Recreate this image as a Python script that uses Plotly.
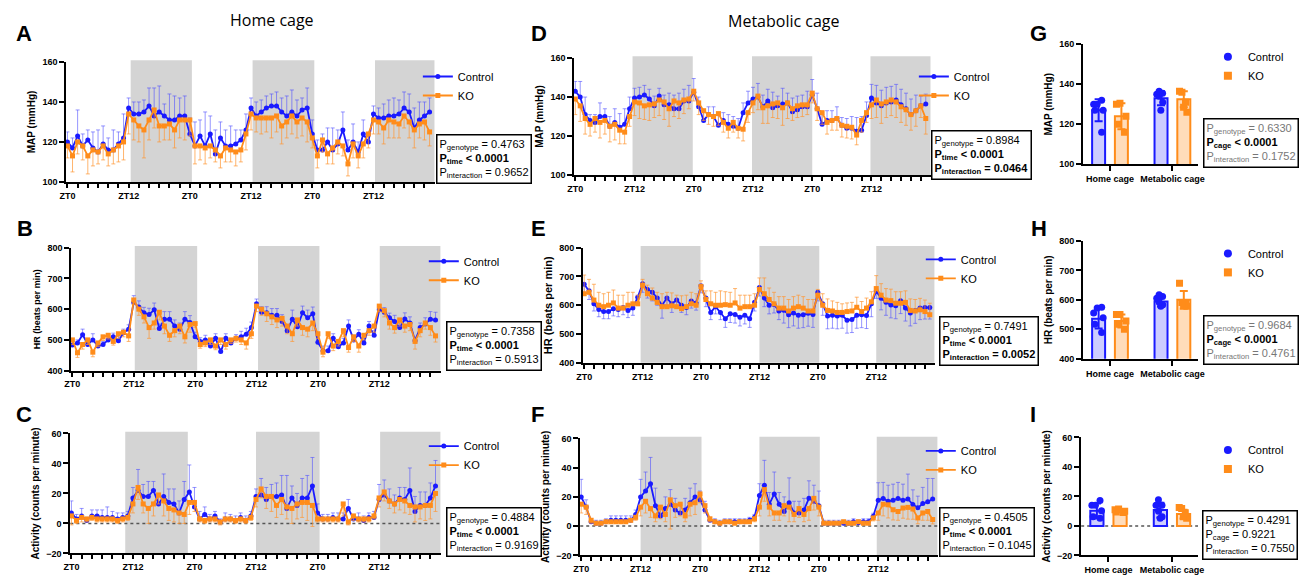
import plotly.graph_objects as go

W, H = 1304, 581
FONT = "Liberation Sans"
BLUE = "#1a1aff"
ORANGE = "#ff8c1a"
BLUE_ERR = "rgba(80,80,255,0.6)"
ORANGE_ERR = "rgba(255,150,50,0.7)"
BLUE_FILL = "rgba(26,26,255,0.22)"
ORANGE_FILL = "rgba(255,140,26,0.30)"
DARK_GRAY = "#d4d4d4"

# ---------------- data ----------------
hours = list(range(72))
zt_hours = [0, 12, 24, 36, 48, 60]
zt_labels = ["ZT0", "ZT12", "ZT0", "ZT12", "ZT0", "ZT12"]
minor_hours = list(range(0, 72, 2))

# A: MAP home cage
map_home_ctrl = [120,117,123,118,121,117,115,119,116,116,119,122,
                 137,134,134,135,138,133,135,133,131,131,133,133,
                 124,118,123,118,124,114,122,118,118,119,121,126,
                 137,133,135,137,138,138,135,133,135,133,136,137,
                 124,116,116,120,116,119,126,116,120,115,124,120,
                 134,132,132,133,133,134,137,135,127,131,133,135]
map_home_ko = [118,113,120,118,113,116,115,118,114,116,118,120,
               134,131,128,126,131,136,128,128,129,126,131,131,
               131,118,118,117,118,116,113,117,116,115,116,124,
               134,132,132,132,132,133,128,130,133,130,132,130,
               122,113,121,114,117,120,118,109,119,113,119,124,
               131,130,127,131,130,129,133,130,126,129,130,125]
map_home_ctrl_err = [5,5,13,6,5,8,11,9,6,10,6,12,
                     5,6,6,6,9,14,13,6,13,12,9,10,
                     8,12,8,17,9,12,8,8,10,7,5,8,
                     5,7,6,6,6,7,7,10,11,8,6,10,
                     7,5,8,7,11,7,9,5,9,5,7,4,
                     4,5,7,8,9,7,8,9,10,9,7,7]
map_home_ko_err = [6,8,6,7,9,8,6,7,6,7,8,9,
                   10,10,8,14,10,9,8,7,8,9,9,10,
                   8,9,7,8,6,6,6,7,6,7,6,8,
                   8,7,8,7,10,8,9,8,9,8,9,10,
                   5,6,6,5,8,6,5,6,7,6,7,7,
                   7,6,8,9,8,7,6,8,9,7,9,7]

# B: HR home cage
hr_home_ctrl = [483,490,517,485,500,480,485,500,510,497,523,535,
                622,607,588,583,598,537,567,567,545,535,567,557,
                510,495,500,480,505,462,505,490,505,510,518,540,
                618,590,588,580,580,560,530,567,543,588,572,585,
                492,465,465,505,478,490,545,500,518,490,545,515,
                598,590,572,560,540,568,555,497,540,552,567,565]
hr_home_ko = [500,458,485,500,460,490,510,515,495,520,525,513,
              630,600,575,540,555,590,545,515,530,545,510,550,
              553,485,490,500,480,500,485,500,505,500,490,520,
              610,600,585,575,565,570,545,520,565,540,535,555,
              520,460,520,480,495,530,475,510,480,515,530,545,
              610,595,555,540,565,545,550,495,530,555,540,513]
hr_home_ctrl_err = [12,10,18,10,20,12,10,12,12,15,12,14,
                    22,20,18,20,22,15,25,25,20,20,25,22,
                    15,12,15,12,15,10,15,12,12,18,20,18,
                    15,18,20,22,22,22,18,30,20,22,25,22,
                    20,15,15,15,12,15,20,15,15,15,15,15,
                    15,15,15,20,15,20,20,12,15,20,25,25]
hr_home_ko_err = [15,15,15,15,15,12,12,12,12,15,15,18,
                  15,20,20,35,20,25,25,20,20,25,20,25,
                  12,12,12,15,12,15,15,12,12,15,20,15,
                  18,20,25,25,25,25,25,25,20,25,25,25,
                  15,15,15,15,15,20,15,15,20,15,15,20,
                  18,20,20,18,20,20,20,25,20,20,25,20]

# C: activity home cage
act_home_ctrl = [7,3,5,2,5,5,4,4,4,3,4,5,
                 17,22,18,18,22,13,18,14,13,7,16,21,
                 11,3,6,3,5,1,3,3,2,4,2,5,
                 18,19,16,18,18,19,10,17,12,17,17,25,
                 7,3,3,4,3,3,10,3,3,2,4,4,
                 16,19,15,13,17,16,22,8,12,12,17,25]
act_home_ko = [5,2,4,3,4,3,3,3,3,2,3,4,
               13,24,13,10,13,19,15,10,9,7,6,14,
               14,3,2,3,3,1,3,3,2,3,2,4,
               16,23,18,18,12,16,11,10,13,14,14,12,
               3,3,3,3,3,13,1,5,3,3,3,5,
               17,21,15,13,16,15,12,11,11,12,12,20]
act_home_ctrl_err = [8,3,5,2,4,4,5,7,4,4,3,3,
                     7,14,8,10,6,5,15,9,10,8,12,18,
                     13,5,5,3,3,2,4,3,3,3,3,3,
                     5,11,8,8,9,13,22,8,8,13,15,19,
                     6,3,3,3,4,4,6,3,4,3,3,4,
                     10,10,8,6,7,8,15,10,9,9,10,17]
act_home_ko_err = [6,2,3,2,2,2,2,2,2,2,2,2,
                   6,8,6,10,8,6,10,8,8,7,6,8,
                   6,2,2,2,2,2,2,2,2,2,2,2,
                   5,6,8,10,8,10,8,10,10,10,12,14,
                   2,2,2,2,2,8,2,3,2,2,2,2,
                   6,6,5,6,7,8,6,10,8,10,9,12]

# D: MAP metabolic cage
map_met_ctrl = [143,140,131,128,127,130,130,125,127,124.5,126,134,
                139.5,140,141,139,135.5,140.5,136,136,134,134,138,138,
                142.5,135,128,131,130,125.5,128,126,125,124,132,137,
                139,140,135,138,134.5,135.5,136.5,137,132.5,133.5,135,135,
                141,134,126,128,128,129,125.5,124,124,122.5,123,130.5,
                139.5,137,135.5,137,137.5,138.5,136,134,131,133,135.5,136.5]
map_met_ko = [139,135.5,129,126,129,127,128,125,126,123,122,130,
              137.5,137,135.5,136,136.5,138.5,137.5,134,138,137,138.5,139,
              143,137,133,131,130,131.5,127,124,127,124,123.5,132,
              137,140.5,134.5,135.5,136.5,137,134.5,137,134,135.5,136,136,
              142,134,132,127,128,129,125.5,125,124.5,120.5,128,132,
              136,138.5,136.5,137.5,138.5,137.5,135,133.5,131,133,135.5,129]
map_met_ctrl_err = [5,8,9,3,4,7,4,5,7,7,8,6,
                    5,5,5,5,5,4,5,6,7,8,6,8,
                    7,5,5,4,5,5,4,5,5,5,5,6,
                    6,7,6,6,8,5,8,5,7,7,6,8,
                    8,8,5,5,5,6,4,5,6,7,7,7,
                    7,9,8,8,8,8,8,8,8,8,5,5]
map_met_ko_err = [8,8,8,6,7,8,7,8,8,7,6,5,
                  7,8,7,8,7,8,9,9,8,8,7,5,
                  5,6,5,5,5,6,5,5,5,5,6,5,
                  5,7,8,9,7,8,9,8,6,6,6,5,
                  5,6,6,6,5,6,6,6,6,5,6,5,
                  7,9,10,8,8,8,8,8,8,8,6,8]

# E: HR metabolic cage
hr_met_ctrl = [673,650,605,585,578,578,588,585,592,582,590,628,
               675,655,645,625,600,625,605,618,600,592,615,608,
               668,625,575,595,575,553,570,568,558,565,553,610,
               662,625,600,603,580,583,567,573,565,567,572,568,
               645,605,563,565,563,565,548,550,565,567,564,605,
               649,624,610,601,598,616,590,573,582,590,592,592]
hr_met_ko = [640,645,618,600,595,600,608,590,590,600,605,605,
             670,640,625,610,595,595,598,595,588,595,605,600,
             665,620,605,600,600,602,600,608,590,595,595,600,
             655,640,620,605,590,590,580,590,595,590,580,580,
             635,600,582,580,575,575,578,580,593,578,590,612,
             658,635,618,616,607,607,610,582,580,584,578,567]
hr_met_ctrl_err = [30,30,25,25,25,25,25,25,25,25,25,25,
                   30,30,30,25,45,25,30,25,25,25,25,25,
                   25,30,25,25,25,30,30,30,30,30,30,30,
                   30,30,30,30,30,45,45,45,45,45,45,45,
                   30,40,45,45,45,45,45,45,45,45,45,45,
                   25,40,45,45,45,45,45,45,45,40,40,40]
hr_met_ko_err = [65,45,55,45,45,45,45,45,45,45,40,30,
                 20,30,35,35,45,50,45,40,45,40,40,40,
                 20,30,45,45,50,45,45,50,45,40,40,40,
                 40,55,40,40,40,40,40,40,40,40,40,40,
                 20,40,40,35,35,30,30,30,35,35,35,35,
                 45,40,40,40,40,40,40,40,40,40,40,40]

# F: activity metabolic cage
act_met_ctrl = [20,13,3,2,2,3,4,4,4,4,4,8,
                20,24,29,14,7,12,15,11,9,11,16,20,
                18,11,4,3,2,3,3,3,3,3,4,6,
                21,28,15,22,15,10,16,9,9,11,19,17,
                14,2,2,2,2,2,2,3,2.3,3,3,6.8,
                17.7,18.9,17,17.7,18.9,17.7,18.6,14.8,12.5,15.5,16.6,18.6]
act_met_ko = [15,13,4,2,2,3,3,3,3,3,4,6,
              13,17,12,7,13,8,18,14,15,7,15,16,
              22,14,5,3,2,3,3,2,3,3,3,5,
              13,25,13,9,9,14,13,8,12,8,12,19,
              13,2,2,2,2,3,2,2,3,2,2,5.6,
              9,15,14.6,11.2,10,12.4,12.8,11.7,5.6,9,10,4.5]
act_met_ctrl_err = [12,5,2,2,2,2,3,3,3,3,3,3,
                    12,13,18,12,5,8,10,8,5,8,10,9,
                    6,6,2,2,2,2,2,2,2,2,2,2,
                    8,17,8,15,8,10,17,8,8,8,12,11,
                    10,2,2,2,2,2,2,2,2,2,2,2,
                    12,11,11,11,11,11,17,10,8,11,16,14]
act_met_ko_err = [6,5,2,1,1,1,1,1,1,1,1,2,
                  6,8,6,4,8,5,20,8,8,4,8,8,
                  6,5,2,1,1,1,1,1,1,1,1,2,
                  6,8,6,5,5,7,10,5,6,5,8,8,
                  6,1,1,1,1,1,1,1,1,1,1,2,
                  5,8,9,7,6,7,8,7,4,5,6,3]

# dark phases (hours) per panel
dark_A = [(12.4, 24.4), (36.3, 48.4), (60.3, 72)]
dark_B = [(12.2, 24.4), (36.3, 48.3), (60.1, 72)]
dark_C = [(10.5, 22.7), (36.0, 48.4), (60.2, 72)]
dark_D = [(11.6, 23.8), (35.8, 48.0), (59.8, 72)]
dark_E = [(11.6, 23.9), (36.0, 48.3), (60.0, 72)]
dark_F = [(12.0, 24.3), (36.0, 48.2), (59.7, 72)]

# G-I: group summaries
cages = ["Home cage", "Metabolic cage"]
map_ctrl_mean = [127, 133]; map_ctrl_sd = [5.5, 3.5]
map_ko_mean = [124, 132.5]; map_ko_sd = [6.5, 4]
map_ctrl_pts = {"Home cage": [132, 130, 130, 127, 127, 116], "Metabolic cage": [136.5, 135.5, 135, 134, 131, 127]}
map_ko_pts = {"Home cage": [130.5, 130, 124, 120, 116], "Metabolic cage": [136, 136.5, 131, 128.5, 126]}
hr_ctrl_mean = [536, 594]; hr_ctrl_sd = [33, 17]
hr_ko_mean = [528, 600]; hr_ko_sd = [22, 30]
hr_ctrl_pts = {"Home cage": [572, 575, 555, 539, 517, 489], "Metabolic cage": [611, 617, 605, 592, 578, 583]}
hr_ko_pts = {"Home cage": [550, 550, 528, 517, 500], "Metabolic cage": [656, 589, 591, 578, 583]}
act_ctrl_mean = [10.2, 10.7]; act_ctrl_sd = [5, 5]
act_ko_mean = [10.2, 8.0]; act_ko_sd = [1, 3]
act_ctrl_pts = {"Home cage": [17.3, 14, 14, 10.2, 6.2, 5.1], "Metabolic cage": [17.8, 14, 14, 10, 6.2, 5.1]}
act_ko_pts = {"Home cage": [11, 10, 9.5, 11.5, 9], "Metabolic cage": [11.8, 12.4, 8.9, 6.2, 5.1]}

# ---------------- helpers ----------------
def dom_x(l, r):
    return [l / W, r / W]

def dom_y(t, b):
    return [1 - b / H, 1 - t / H]

def names(n):
    s = "" if n == 1 else str(n)
    return "x" + s, "y" + s, "xaxis" + s, "yaxis" + s, "legend" + s

def stats_text(lines):
    out = []
    for label, sub, val, bold, gray in lines:
        t = f"{label}<sub>{sub}</sub> {val}"
        if bold:
            t = f"<b>{t}</b>"
        if gray:
            t = f"<span style='color:#777777'>{t}</span>"
        out.append(t)
    return "<br>".join(out)

fig = go.Figure()
layout = dict(width=W, height=H, autosize=False, margin=dict(l=0, r=0, t=0, b=0),
              paper_bgcolor="white", plot_bgcolor="white",
              font=dict(family=FONT, color="black", size=11),
              barmode="group", bargap=0.27, bargroupgap=0.43,
              boxmode="group", boxgap=0.27, boxgroupgap=0.43,
              showlegend=True)
shapes = []
annotations = []

ts_panels = [
    dict(n=1, xpx=(60, 432), ypx=(58, 180), yr=[100, 160], dt=20, yt="MAP (mmHg)", yts=10,
         ctrl=map_home_ctrl, ko=map_home_ko, ce=map_home_ctrl_err, ke=map_home_ko_err, ctrl_up=True,
         dark=dark_A, zero=False, leg=(415, 58), box=(433, 131),
         stats=[("P", "genotype", "= 0.4763", False, False), ("P", "time", "&lt; 0.0001", True, False),
                ("P", "interaction", "= 0.9652", False, False)]),
    dict(n=2, xpx=(65, 438), ypx=(247, 372), yr=[400, 800], dt=100, yt="HR (beats per min)", yts=9,
         ctrl=hr_home_ctrl, ko=hr_home_ko, ce=hr_home_ctrl_err, ke=hr_home_ko_err, ctrl_up=True,
         dark=dark_B, zero=False, leg=(421, 246), box=(443, 322),
         stats=[("P", "genotype", "= 0.7358", False, False), ("P", "time", "&lt; 0.0001", True, False),
                ("P", "interaction", "= 0.5913", False, False)]),
    dict(n=3, xpx=(64, 438), ypx=(436, 558), yr=[-20, 60], dt=20, yt="Activity (counts per minute)", yts=10,
         ctrl=act_home_ctrl, ko=act_home_ko, ce=act_home_ctrl_err, ke=act_home_ko_err, ctrl_up=True,
         dark=dark_C, zero=True, leg=(421, 434), box=(443, 511),
         stats=[("P", "genotype", "= 0.4884", False, False), ("P", "time", "&lt; 0.0001", True, False),
                ("P", "interaction", "= 0.9169", False, False)]),
    dict(n=4, xpx=(573, 933), ypx=(54, 173), yr=[100, 160], dt=20, yt="MAP (mmHg)", yts=10,
         ctrl=map_met_ctrl, ko=map_met_ko, ce=map_met_ctrl_err, ke=map_met_ko_err, ctrl_up=True,
         dark=dark_D, zero=False, leg=(916, 58), box=(933, 127),
         stats=[("P", "genotype", "= 0.8984", False, False), ("P", "time", "&lt; 0.0001", True, False),
                ("P", "interaction", "= 0.0464", True, False)]),
    dict(n=5, xpx=(582, 937), ypx=(247, 364), yr=[400, 800], dt=100, yt="HR (beats per min)", yts=11,
         ctrl=hr_met_ctrl, ko=hr_met_ko, ce=hr_met_ctrl_err, ke=hr_met_ko_err, ctrl_up=False,
         dark=dark_E, zero=False, leg=(923, 244), box=(941, 316),
         stats=[("P", "genotype", "= 0.7491", False, False), ("P", "time", "&lt; 0.0001", True, False),
                ("P", "interaction", "= 0.0052", True, False)]),
    dict(n=6, xpx=(579, 940), ypx=(441, 560), yr=[-20, 60], dt=20, yt="Activity (counts per minute)", yts=10,
         ctrl=act_met_ctrl, ko=act_met_ko, ce=act_met_ctrl_err, ke=act_met_ko_err, ctrl_up=True,
         dark=dark_F, zero=True, leg=(923, 439), box=(941, 511),
         stats=[("P", "genotype", "= 0.4505", False, False), ("P", "time", "&lt; 0.0001", True, False),
                ("P", "interaction", "= 0.1045", False, False)]),
]

axis_line = dict(showline=True, linecolor="black", linewidth=2, ticks="outside", tickcolor="black",
                 tickwidth=2, ticklen=5, showgrid=False, zeroline=False,
                 tickfont=dict(family=FONT, size=9, color="black", weight="bold"))

for p in ts_panels:
    xn, yn, xa, ya, lg = names(p["n"])
    layout[xa] = dict(axis_line, domain=dom_x(*p["xpx"]), range=[-0.2, 72], anchor=yn,
                      tickmode="array", tickvals=zt_hours, ticktext=zt_labels, ticklen=4,
                      minor=dict(tickmode="array", tickvals=minor_hours, ticks="outside", ticklen=4,
                                 tickwidth=2, tickcolor="black", showgrid=False))
    layout[ya] = dict(axis_line, domain=dom_y(*p["ypx"]), range=p["yr"], dtick=p["dt"], anchor=xn,
                      title=dict(text=p["yt"], standoff=5,
                                 font=dict(family=FONT, size=p["yts"], color="black", weight="bold")))
    for (a, b) in p["dark"]:
        shapes.append(dict(type="rect", xref=xn, x0=a, x1=b, yref=yn + " domain", y0=0, y1=1.015,
                           fillcolor=DARK_GRAY, line=dict(width=0), layer="below"))
    if p["zero"]:
        shapes.append(dict(type="line", xref=xn + " domain", x0=0, x1=1, yref=yn, y0=0, y1=0,
                           line=dict(color="#555", width=1.5, dash="dot"), layer="below"))
    zeros = [0] * len(hours)
    if p["ctrl_up"]:
        ce = dict(array=p["ce"], arrayminus=zeros)
        ke = dict(array=zeros, arrayminus=p["ke"])
    else:
        ce = dict(array=zeros, arrayminus=p["ce"])
        ke = dict(array=p["ke"], arrayminus=zeros)
    fig.add_trace(go.Scatter(x=hours, y=p["ctrl"], mode="lines+markers", name="Control",
                             line=dict(color=BLUE, width=1.8), marker=dict(color=BLUE, size=5, symbol="circle"),
                             error_y=dict(type="data", symmetric=False, color=BLUE_ERR, thickness=1, width=2, **ce),
                             xaxis=xn, yaxis=yn, legend=lg, cliponaxis=False))
    fig.add_trace(go.Scatter(x=hours, y=p["ko"], mode="lines+markers", name="KO",
                             line=dict(color=ORANGE, width=1.8), marker=dict(color=ORANGE, size=5, symbol="square"),
                             error_y=dict(type="data", symmetric=False, color=ORANGE_ERR, thickness=1, width=2, **ke),
                             xaxis=xn, yaxis=yn, legend=lg, cliponaxis=False))
    layout[lg] = dict(x=p["leg"][0] / W, y=1 - p["leg"][1] / H, xanchor="left", yanchor="top",
                      bgcolor="rgba(0,0,0,0)", font=dict(family=FONT, size=11, color="black"),
                      itemwidth=30, tracegroupgap=0)
    annotations.append(dict(x=p["box"][0] / W, y=1 - p["box"][1] / H, xref="paper", yref="paper",
                            xanchor="left", yanchor="top", align="left", showarrow=False,
                            text=stats_text(p["stats"]), bordercolor="black", borderwidth=1.5, borderpad=2,
                            bgcolor="white", font=dict(family=FONT, size=11, color="black")))

bar_panels = [
    dict(n=7, xpx=(1087, 1203), ypx=(40, 162), yr=[100, 160], dt=20, yt="MAP (mmHg)",
         cm=map_ctrl_mean, cs=map_ctrl_sd, km=map_ko_mean, ks=map_ko_sd, cp=map_ctrl_pts, kp=map_ko_pts,
         zero=False, leg=(1213, 38), box=(1208, 115),
         stats=[("P", "genotype", "= 0.6330", False, True), ("P", "cage", "&lt; 0.0001", True, False),
                ("P", "interaction", "= 0.1752", False, True)]),
    dict(n=8, xpx=(1087, 1203), ypx=(240, 360), yr=[400, 800], dt=100, yt="HR (beats per min)",
         cm=hr_ctrl_mean, cs=hr_ctrl_sd, km=hr_ko_mean, ks=hr_ko_sd, cp=hr_ctrl_pts, kp=hr_ko_pts,
         zero=False, leg=(1213, 238), box=(1208, 315),
         stats=[("P", "genotype", "= 0.9684", False, True), ("P", "cage", "&lt; 0.0001", True, False),
                ("P", "interaction", "= 0.4761", False, True)]),
    dict(n=9, xpx=(1085, 1203), ypx=(440, 560), yr=[-20, 60], dt=20, yt="Activity (counts per minute)",
         cm=act_ctrl_mean, cs=act_ctrl_sd, km=act_ko_mean, ks=act_ko_sd, cp=act_ctrl_pts, kp=act_ko_pts,
         zero=True, leg=(1213, 438), box=(1207, 514),
         stats=[("P", "genotype", "= 0.4291", False, False), ("P", "cage", "= 0.9221", False, False),
                ("P", "interaction", "= 0.7550", False, False)]),
]

for p in bar_panels:
    xn, yn, xa, ya, lg = names(p["n"])
    layout[xa] = dict(axis_line, domain=dom_x(*p["xpx"]), range=[-0.43, 1.41], anchor=yn, type="category",
                      categoryorder="array", categoryarray=cages, tickangle=0,
                      tickfont=dict(family=FONT, size=9, color="black", weight="bold"))
    layout[ya] = dict(axis_line, domain=dom_y(*p["ypx"]), range=p["yr"], dtick=p["dt"], anchor=xn,
                      title=dict(text=p["yt"], standoff=5,
                                 font=dict(family=FONT, size=10, color="black", weight="bold")))
    if p["zero"]:
        shapes.append(dict(type="line", xref=xn + " domain", x0=0, x1=1, yref=yn, y0=0, y1=0,
                           line=dict(color="#555", width=1.5, dash="dot"), layer="below"))
    fig.add_trace(go.Bar(x=cages, y=p["cm"], name="Control", offsetgroup="c", showlegend=False,
                         marker=dict(color=BLUE_FILL, line=dict(color=BLUE, width=2)),
                         error_y=dict(type="data", array=p["cs"], color=BLUE, thickness=2, width=4),
                         xaxis=xn, yaxis=yn))
    fig.add_trace(go.Bar(x=cages, y=p["km"], name="KO", offsetgroup="k", showlegend=False,
                         marker=dict(color=ORANGE_FILL, line=dict(color=ORANGE, width=2)),
                         error_y=dict(type="data", array=p["ks"], color=ORANGE, thickness=2, width=4),
                         xaxis=xn, yaxis=yn))
    for pts, col, sym, grp in [(p["cp"], BLUE, "circle", "c"), (p["kp"], ORANGE, "square", "k")]:
        xs, ys = [], []
        for c in cages:
            xs += [c] * len(pts[c])
            ys += pts[c]
        fig.add_trace(go.Box(x=xs, y=ys, boxpoints="all", jitter=0.9, pointpos=0, offsetgroup=grp,
                             fillcolor="rgba(0,0,0,0)", line=dict(width=0, color="rgba(0,0,0,0)"),
                             marker=dict(color=col, size=7, symbol=sym), showlegend=False,
                             hoverinfo="y", xaxis=xn, yaxis=yn))
    fig.add_trace(go.Scatter(x=[None], y=[None], mode="markers", name="Control",
                             marker=dict(color=BLUE, size=8, symbol="circle"), xaxis=xn, yaxis=yn, legend=lg))
    fig.add_trace(go.Scatter(x=[None], y=[None], mode="markers", name="KO",
                             marker=dict(color=ORANGE, size=8, symbol="square"), xaxis=xn, yaxis=yn, legend=lg))
    layout[lg] = dict(x=p["leg"][0] / W, y=1 - p["leg"][1] / H, xanchor="left", yanchor="top",
                      bgcolor="rgba(0,0,0,0)", font=dict(family=FONT, size=11, color="black"),
                      itemwidth=30, tracegroupgap=0)
    annotations.append(dict(x=p["box"][0] / W, y=1 - p["box"][1] / H, xref="paper", yref="paper",
                            xanchor="left", yanchor="top", align="left", showarrow=False,
                            text=stats_text(p["stats"]), bordercolor="black", borderwidth=1.5, borderpad=2,
                            bgcolor="white", font=dict(family=FONT, size=11, color="black")))

# panel letters
letters = [("A", 17, 29.5), ("B", 18, 227.5), ("C", 17.5, 416.5),
           ("D", 537, 29.5), ("E", 537, 227.5), ("F", 536, 417),
           ("G", 1042, 29.5), ("H", 1042, 227.5), ("I", 1036, 417)]
for t, x, y in letters:
    annotations.append(dict(x=x / W, y=1 - y / H, xref="paper", yref="paper", xanchor="center",
                            yanchor="middle", showarrow=False, text=f"<b>{t}</b>",
                            font=dict(family=FONT, size=22, color="black")))

titles = [("Home cage", 268, 15), ("Metabolic cage", 785, 16)]
for t, x, y in titles:
    annotations.append(dict(x=x / W, y=1 - y / H, xref="paper", yref="paper", xanchor="center",
                            yanchor="middle", showarrow=False, text=t,
                            font=dict(family="Open Sans", size=16, color="black")))

layout["shapes"] = shapes
layout["annotations"] = annotations
fig.update_layout(**layout)

fig.write_html("out.html", config={"displayModeBar": False, "responsive": False},
               post_script="document.body.style.margin='0';document.body.style.overflow='hidden';")
